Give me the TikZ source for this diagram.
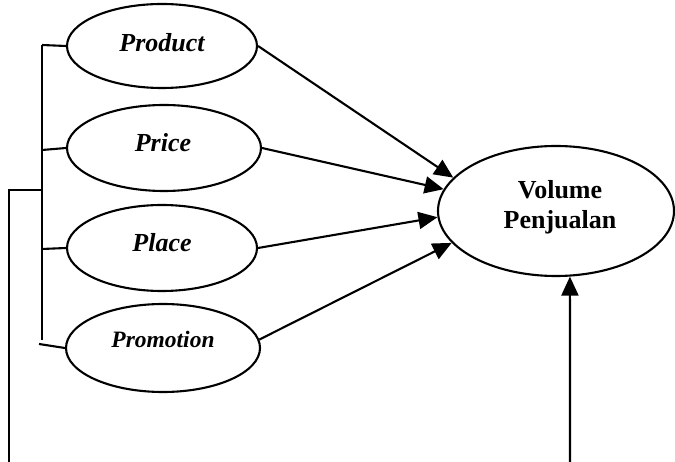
\documentclass[tikz,border=0pt]{standalone}
\usepackage{fontspec}
\setmainfont{Liberation Serif}
\usetikzlibrary{shapes.geometric,arrows.meta}
\begin{document}
\begin{tikzpicture}[x=1pt,y=-1pt,
  line width=2.1pt,
  oval/.style={draw,ellipse,inner sep=0pt},
  lbl/.style={inner sep=0pt,font=\fontsize{26}{30}\selectfont\bfseries\itshape},
  arr/.style={-{Triangle[length=19pt,width=17pt]}}]
\useasboundingbox (0,0) rectangle (675,462);

% four marketing-mix variables
\node[oval,minimum width=190pt,minimum height=84pt] (prod)  at (162,46)  {};
\node[oval,minimum width=194pt,minimum height=86pt] (price) at (164,148) {};
\node[oval,minimum width=190pt,minimum height=86pt] (place) at (162,248) {};
\node[oval,minimum width=194pt,minimum height=88pt] (promo) at (163,348) {};
\node[lbl] (prodT)  at (162,43)  {Product};
\node[lbl] (priceT) at (163,143) {Price};
\node[lbl] (placeT) at (162,243) {Place};
\node[lbl,font=\fontsize{23.5}{28}\selectfont\bfseries\itshape] (promoT) at (163,339) {Promotion};

% dependent variable
\node[oval,minimum width=236pt,minimum height=130pt] (vol) at (556,211) {};
\node[inner sep=0pt,align=center,font=\fontsize{26}{30}\selectfont\bfseries] (volT) at (560,207) {Volume\\Penjualan};

% bracket joining the four variables
\coordinate (bTop) at (42,45);
\coordinate (bBot) at (42,340);
\coordinate (bPrice) at (42,150);
\coordinate (bPlace) at (42,249);
\coordinate (bPromo) at (39,344);
\draw (bTop) -- (bBot);
\draw (bTop) -- (prod.west);
\draw (bPrice) -- (price.west);
\draw (bPlace) -- (place.west);
\draw (bPromo) -- (promo.west);

% simultaneous link
\coordinate (sJoin) at (42,190);
\coordinate (sCorner) at (9,190);
\coordinate (sFoot) at (9,462);
\draw (sFoot) -- (sCorner) -- (sJoin);
\coordinate (uFoot) at (570,462);
\draw[arr] (uFoot) -- (vol.282);

% partial effects
\draw[arr] (prod.east)  -- (vol.162.7);
\draw[arr] (price.east) -- (vol.169.6);
\draw[arr] (place.east) -- (vol.183);
\draw[arr] (promo.5)    -- (vol.197.4);
\end{tikzpicture}
\end{document}
